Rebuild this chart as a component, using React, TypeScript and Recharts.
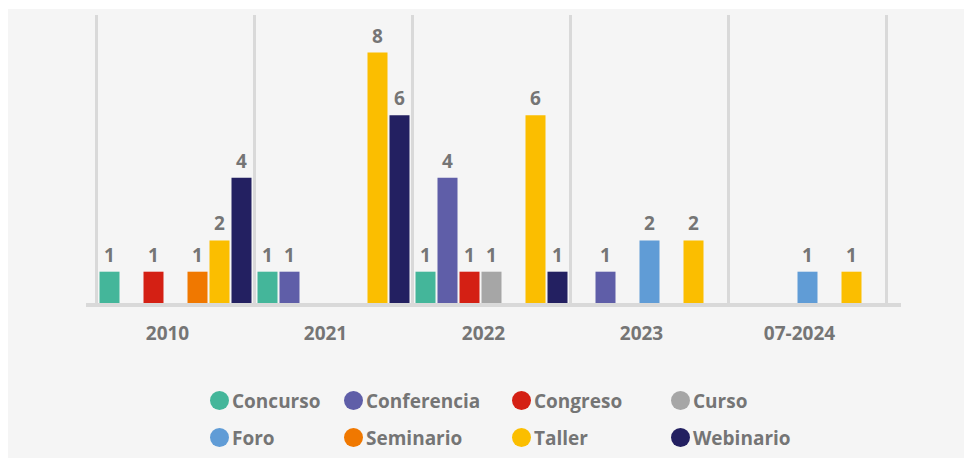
import { BarChart, Bar, XAxis, YAxis, ReferenceLine, LabelList } from "recharts";

const categories = ["2010", "2021", "2022", "2023", "07-2024"];

const concurso = [1, 1, 1, null, null];
const conferencia = [null, 1, 4, 1, null];
const congreso = [1, null, 1, null, null];
const curso = [null, null, 1, null, null];
const foro = [null, null, null, 2, 1];
const seminario = [1, null, null, null, null];
const taller = [2, 8, 6, 2, 1];
const webinario = [4, 6, 1, null, null];

// band edges for the vertical separators
const bandEdges = [0, 1, 2, 3, 4, 5];

// slot = which column the series sits in; Curso and Foro never overlap so they share one
const SERIES = [
  { key: "Concurso", values: concurso, color: "#44b69a", slot: "sA" },
  { key: "Conferencia", values: conferencia, color: "#5f5ea8", slot: "sB" },
  { key: "Congreso", values: congreso, color: "#d42014", slot: "sC" },
  { key: "Curso", values: curso, color: "#a6a6a6", slot: "sD" },
  { key: "Foro", values: foro, color: "#609cd6", slot: "sD" },
  { key: "Seminario", values: seminario, color: "#f07800", slot: "sE" },
  { key: "Taller", values: taller, color: "#fbbe00", slot: "sF" },
  { key: "Webinario", values: webinario, color: "#232061", slot: "sG" },
];

// legend goes in rows of four
const LEGEND_ORDER = [
  "Concurso", "Conferencia", "Congreso", "Curso",
  "Foro", "Seminario", "Taller", "Webinario",
];
const LEGEND_COLS = [134, 168, 159, 140];

const FONT = "'Open Sans', 'DejaVu Sans', sans-serif";
const TEXT = "#757575";
const GRID = "#d9d9d9";

const rows = categories.map((name, i) => {
  const row: Record<string, string | number | null> = { name, idx: i + 0.5 };
  SERIES.forEach((s) => {
    row[s.key] = s.values[i];
  });
  return row;
});

const pad = { left: 10.5, right: 14.5 };

function ChartLegend() {
  return (
    <div
      style={{
        position: "absolute",
        left: 203,
        top: 373,
        width: 620,
        display: "flex",
        flexWrap: "wrap",
      }}
    >
      {LEGEND_ORDER.map((name, i) => {
        const s = SERIES.find((x) => x.key === name)!;
        return (
          <div
            key={name}
            style={{
              width: LEGEND_COLS[i % 4],
              height: 37,
              display: "flex",
              alignItems: "center",
              gap: 3,
              fontSize: 19,
              fontWeight: 700,
              color: TEXT,
            }}
          >
            <span
              style={{
                width: 19,
                height: 19,
                borderRadius: "50%",
                background: s.color,
                display: "inline-block",
                flexShrink: 0,
              }}
            />
            {name}
          </div>
        );
      })}
    </div>
  );
}

export default function App() {
  return (
    <div
      style={{
        position: "relative",
        left: -1,
        top: 1,
        width: 965,
        height: 450,
        background: "#f5f5f5",
        fontFamily: FONT,
      }}
    >
      <BarChart
        width={965}
        height={450}
        data={rows}
        margin={{ top: 6, right: 71, bottom: 116, left: 79 }}
        barSize={20}
        barGap={2}
        barCategoryGap={3}
      >
        <XAxis xAxisId="grid" type="number" dataKey="idx" domain={[0, 5]} padding={pad} hide />
        <XAxis
          dataKey="name"
          height={40}
          padding={pad}
          tickLine={false}
          tickSize={0}
          tickMargin={24}
          axisLine={{ stroke: GRID, strokeWidth: 4, transform: "translate(0,2)" }}
          tick={{ fill: TEXT, fontSize: 19, fontWeight: 700, fontFamily: FONT, dx: -8 }}
        />
        <YAxis hide domain={[0, 9.2]} />
        {bandEdges.map((e) => (
          <ReferenceLine key={e} xAxisId="grid" x={e} stroke={GRID} strokeWidth={3} />
        ))}
        {SERIES.map((s) => (
          <Bar key={s.key} dataKey={s.key} stackId={s.slot} fill={s.color} isAnimationActive={false}>
            <LabelList
              dataKey={s.key}
              position="top"
              offset={10}
              fill={TEXT}
              fontSize={19}
              fontWeight={700}
              fontFamily={FONT}
            />
          </Bar>
        ))}
      </BarChart>
      <ChartLegend />
    </div>
  );
}
